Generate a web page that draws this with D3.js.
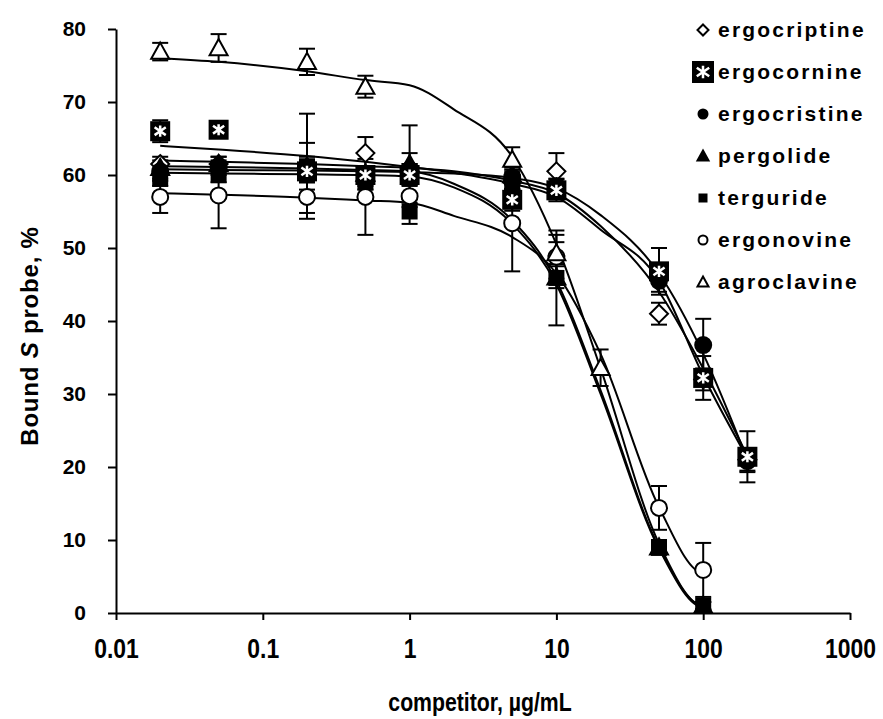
<!DOCTYPE html>
<html>
<head>
<meta charset="utf-8">
<script src="https://cdn.jsdelivr.net/npm/d3@7"></script>
<style>
  body { margin: 0; background: #fff; }
</style>
</head>
<body>
<div id="container"></div>
<script>
// concentrations (ug/mL) for measured points
let xAll = [0.02, 0.05, 0.2, 0.5, 1, 5, 10, 50, 100, 200];
let xNine = [0.02, 0.05, 0.2, 0.5, 1, 5, 10, 50, 100];
let xAgro = [0.02, 0.05, 0.2, 0.5, 5, 10, 20];

// measured bound %, with error bars
let ergocriptineY = [61.5, 61.5, 61, 63, 61, 59, 60.5, 41, 32, 21];
let ergocriptineE = [1, 1, 1.5, 2.2, 2, 1, 2.5, 1.5, 1.5, 1.5];
let ergocornineY = [66, 66.2, 60.5, 60, 60, 56.6, 57.9, 46.8, 32.2, 21.4];
let ergocornineE = [1.5, 1, 1.5, 1.2, 1.5, 1.5, 1.5, 3.2, 3, 3.5];
let ergocristineY = [60.5, 61, 60.5, 59.5, 60.5, 59.7, 58.5, 45.5, 36.7, 20.8];
let ergocristineE = [1, 1, 1.5, 1, 1, 1, 1, 1.5, 3.6, 1.5];
let pergolideY = [61, 61.5, 61.2, 60.2, 61.5, 60, 46, 9, 1];
let pergolideE = [1, 1, 3.2, 1, 5.3, 1, 1.5, 1, 0.5];
let terguridY = [59.5, 60, 61.2, 59, 55, 59, 45.9, 9, 1];
let terguridE = [1, 1, 7.2, 1, 1.7, 1, 6.5, 1, 0.5];
let ergonovineY = [57, 57.2, 57, 57, 57.1, 53.4, 48.8, 14.4, 5.9];
let ergonovineE = [2.2, 4.5, 2.2, 5.2, 1.5, 6.6, 3, 3, 3.7];
let agroclavineY = [76.9, 77.4, 75.5, 72.1, 62.1, 49.3, 33.6];
let agroclavineE = [1.2, 1.9, 1.8, 1.5, 1.7, 1.5, 2.5];

// fitted curves
let fitX = [0.02, 0.05, 0.2, 0.5, 1, 2, 5, 10, 20, 50, 100, 200];
let ergocriptineFit = [62.0, 61.8, 61.5, 61.2, 61.0, 60.5, 59.2, 57.5, 53.0, 44.0, 33.5, 21.5];
let ergocornineFit = [64.0, 63.5, 62.6, 61.8, 61.1, 60.3, 58.8, 57.0, 52.5, 45.5, 32.5, 21.2];
let ergocristineFit = [60.8, 60.7, 60.6, 60.5, 60.4, 60.2, 59.6, 58.2, 54.5, 46.5, 35.5, 21.0];
let pergolideFit = [61.2, 61.1, 60.9, 60.7, 60.5, 58.8, 53.8, 45.5, 30.5, 9.0, 1.0];
let terguridFit = [60.3, 60.2, 60.1, 60.0, 59.8, 58.3, 53.3, 45.0, 30.0, 8.8, 0.8];
let ergonovineFit = [57.5, 57.3, 56.9, 56.5, 56.2, 54.4, 51.5, 46.5, 35.5, 14.5, 5.5];
let agroclavineFit = [76.0, 75.5, 74.2, 73.0, 72.3, 69.0, 62.5, 50.5, 33.5, 9.5, 1.0];

let seriesNames = ["ergocriptine", "ergocornine", "ergocristine", "pergolide", "terguride", "ergonovine", "agroclavine"];
let seriesShapes = ["diamond", "starbox", "circle", "triangle", "square", "opencircle", "opentriangle"];

let xTicks = [0.01, 0.1, 1, 10, 100, 1000];
let xTickLabels = ["0.01", "0.1", "1", "10", "100", "1000"];
let yTicks = [0, 10, 20, 30, 40, 50, 60, 70, 80];

let w = 883;
let h = 719;

let viz = d3.select("#container")
  .append("svg")
    .attr("width", w)
    .attr("height", h)
    .style("background", "#fff")
;

let xScale = d3.scaleLog().domain([0.01, 1000]).range([116, 850]);
let yScale = d3.scaleLinear().domain([0, 80]).range([613, 29]);

function pack(xs, ys, es){
  return xs.map(function(x, i){ return {x: x, y: ys[i], e: es ? es[i] : 0}; });
}

let series = [
  {name: "ergocriptine", shape: "diamond", pts: pack(xAll, ergocriptineY, ergocriptineE), fit: pack(fitX, ergocriptineFit)},
  {name: "ergocornine", shape: "starbox", pts: pack(xAll, ergocornineY, ergocornineE), fit: pack(fitX, ergocornineFit)},
  {name: "ergocristine", shape: "circle", pts: pack(xAll, ergocristineY, ergocristineE), fit: pack(fitX, ergocristineFit)},
  {name: "pergolide", shape: "triangle", pts: pack(xNine, pergolideY, pergolideE), fit: pack(fitX, pergolideFit)},
  {name: "terguride", shape: "square", pts: pack(xNine, terguridY, terguridE), fit: pack(fitX, terguridFit)},
  {name: "ergonovine", shape: "opencircle", pts: pack(xNine, ergonovineY, ergonovineE), fit: pack(fitX, ergonovineFit)},
  {name: "agroclavine", shape: "opentriangle", pts: pack(xAgro, agroclavineY, agroclavineE), fit: pack(fitX, agroclavineFit)}
];

// axes
let yAxis = d3.axisLeft(yScale).tickValues(yTicks).tickSize(8).tickSizeOuter(0).tickPadding(22);
let yAxisGroup = viz.append("g")
    .attr("class", "yaxisgroup")
    .attr("transform", "translate(" + xScale(0.01) + ",0)")
;
yAxisGroup.call(yAxis);
yAxisGroup.selectAll("text")
    .attr("font-size", "21px")
    .attr("font-weight", "bold")
    .attr("font-family", "Liberation Sans, Arial, sans-serif")
    .attr("fill", "#000")
;

let xAxis = d3.axisBottom(xScale).tickValues(xTicks).tickSize(7).tickSizeOuter(0).tickPadding(19)
    .tickFormat(function(d, i){ return xTickLabels[i]; });
let xAxisGroup = viz.append("g")
    .attr("class", "xaxisgroup")
    .attr("transform", "translate(0," + yScale(0) + ")")
;
xAxisGroup.call(xAxis);
// narrow look of the original labels: squeeze each label sideways
xAxisGroup.selectAll(".tick text")
    .attr("font-size", "27px")
    .attr("font-weight", "bold")
    .attr("font-family", "Liberation Sans, Arial, sans-serif")
    .attr("fill", "#000")
    .attr("transform", "scale(0.85,1)")
;
viz.selectAll(".domain, .tick line").attr("stroke", "#000").attr("stroke-width", 2);

viz.append("text")
    .text("competitor, µg/mL")
    .attr("transform", "translate(480,711) scale(0.85,1)")
    .attr("text-anchor", "middle")
    .attr("font-size", "25px")
    .attr("font-weight", "bold")
    .attr("font-family", "Liberation Sans, Arial, sans-serif")
;

let yTitle = viz.append("text")
    .attr("transform", "translate(38,336) rotate(-90)")
    .attr("text-anchor", "middle")
    .attr("font-size", "24px")
    .attr("font-weight", "bold")
    .attr("letter-spacing", "0.8px")
    .attr("font-family", "Liberation Sans, Arial, sans-serif")
;
yTitle.append("tspan").text("Bound ");
yTitle.append("tspan").text("S").attr("font-style", "italic");
yTitle.append("tspan").text(" probe, %");

// fitted lines
let line = d3.line()
    .x(function(d){ return xScale(d.x); })
    .y(function(d){ return yScale(d.y); })
    .curve(d3.curveMonotoneX)
;
let lineGroup = viz.append("g").attr("class", "linegroup");
lineGroup.selectAll("path").data(series).enter()
  .append("path")
    .attr("d", function(d){ return line(d.fit); })
    .attr("fill", "none")
    .attr("stroke", "#000")
    .attr("stroke-width", 2)
;

// error bars
let errGroup = viz.append("g").attr("class", "errgroup");
series.forEach(function(s){
  let g = errGroup.append("g");
  g.selectAll(".bar").data(s.pts).enter()
    .append("line")
      .attr("x1", function(d){ return xScale(d.x); })
      .attr("x2", function(d){ return xScale(d.x); })
      .attr("y1", function(d){ return yScale(d.y + d.e); })
      .attr("y2", function(d){ return yScale(d.y - d.e); })
      .attr("stroke", "#000").attr("stroke-width", 2);
  [1, -1].forEach(function(sign){
    g.selectAll(".cap" + sign).data(s.pts).enter()
      .append("line")
        .attr("x1", function(d){ return xScale(d.x) - 8; })
        .attr("x2", function(d){ return xScale(d.x) + 8; })
        .attr("y1", function(d){ return yScale(d.y + sign * d.e); })
        .attr("y2", function(d){ return yScale(d.y + sign * d.e); })
        .attr("stroke", "#000").attr("stroke-width", 2);
  });
});

function drawMarker(g, shape, size){
  let r = size / 2;
  if(shape == "diamond"){
    g.append("path").attr("d", "M0," + (-r) + "L" + r + ",0L0," + r + "L" + (-r) + ",0Z")
      .attr("fill", "#fff").attr("stroke", "#000").attr("stroke-width", 2);
  } else if(shape == "starbox"){
    g.append("rect").attr("x", -r - 1).attr("y", -r - 1).attr("width", size + 2).attr("height", size + 2).attr("fill", "#000");
    let a = r * 0.62;
    g.append("path")
      .attr("d", "M0," + (-a) + "L0," + a + "M" + (-a) + "," + (-a * 0.7) + "L" + a + "," + (a * 0.7) + "M" + (-a) + "," + (a * 0.7) + "L" + a + "," + (-a * 0.7))
      .attr("stroke", "#fff").attr("stroke-width", 2.5);
  } else if(shape == "circle" || shape == "opencircle"){
    g.append("circle").attr("r", r - 1)
      .attr("fill", shape == "circle" ? "#000" : "#fff").attr("stroke", "#000").attr("stroke-width", 2);
  } else if(shape == "triangle" || shape == "opentriangle"){
    g.append("path").attr("d", "M0," + (-r) + "L" + r + "," + (r * 0.8) + "L" + (-r) + "," + (r * 0.8) + "Z")
      .attr("fill", shape == "triangle" ? "#000" : "#fff").attr("stroke", "#000").attr("stroke-width", 2);
  } else if(shape == "square"){
    g.append("rect").attr("x", -r + 1).attr("y", -r + 1).attr("width", size - 2).attr("height", size - 2).attr("fill", "#000");
  }
}

// markers; the diamonds sit underneath, as in the original
let drawOrder = ["ergocriptine", "terguride", "ergocristine", "pergolide", "ergocornine", "ergonovine", "agroclavine"];
let markGroup = viz.append("g").attr("class", "markgroup");
drawOrder.forEach(function(name){
  let s = series.find(function(d){ return d.name == name; });
  s.pts.forEach(function(p){
    let g = markGroup.append("g")
      .attr("transform", "translate(" + xScale(p.x) + "," + yScale(p.y) + ")");
    drawMarker(g, s.shape, 18);
  });
});

// legend
let legendGroup = viz.append("g").attr("class", "legendgroup");
seriesNames.forEach(function(name, i){
  let yPos = 30 + i * 42;
  let g = legendGroup.append("g").attr("transform", "translate(703," + yPos + ")");
  let sh = seriesShapes[i];
  drawMarker(g, sh, sh == "starbox" ? 20 : 11);
  g.append("text")
    .text(name)
    .attr("x", 15)
    .attr("y", 7)
    .attr("font-size", "21px")
    .attr("font-weight", "bold")
    .attr("letter-spacing", "2.2px")
    .attr("font-family", "Liberation Sans, Arial, sans-serif");
});
</script>
</body>
</html>
